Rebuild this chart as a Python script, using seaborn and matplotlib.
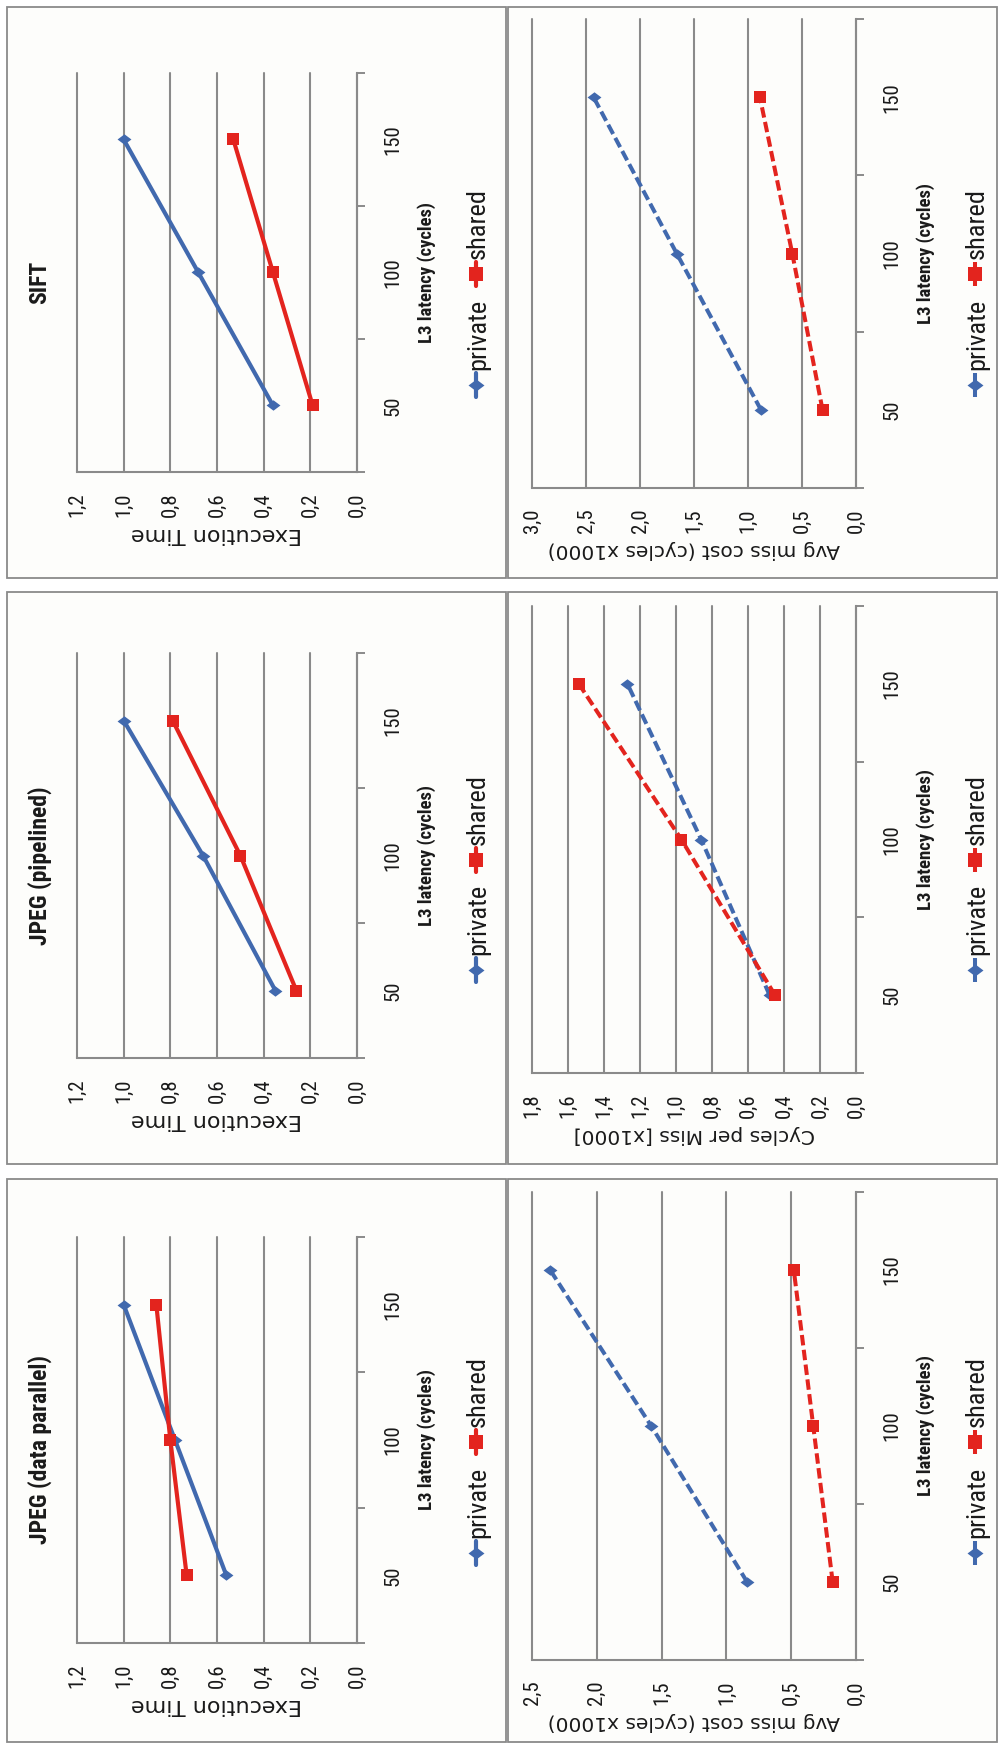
import matplotlib
matplotlib.use("Agg")
import matplotlib.pyplot as plt
import matplotlib.transforms as mtrans
from matplotlib import font_manager as fm
from matplotlib.lines import Line2D
from matplotlib.patches import Rectangle
from matplotlib.ticker import FixedLocator, MultipleLocator, FuncFormatter
import seaborn as sns

# ---- values ----
latency = [50, 100, 150]
configs = ["private", "shared"]
titles = ["SIFT", "JPEG (pipelined)", "JPEG (data parallel)"]

sift_exec_private = [0.36, 0.68, 1.00]
sift_exec_shared = [0.19, 0.36, 0.53]
pipe_exec_private = [0.35, 0.66, 1.00]
pipe_exec_shared = [0.26, 0.50, 0.79]
dpar_exec_private = [0.56, 0.78, 1.00]
dpar_exec_shared = [0.73, 0.80, 0.86]

sift_miss_private = [0.88, 1.66, 2.43]
sift_miss_shared = [0.31, 0.59, 0.89]
pipe_miss_private = [0.48, 0.86, 1.27]
pipe_miss_shared = [0.45, 0.97, 1.54]
dpar_miss_private = [0.84, 1.58, 2.36]
dpar_miss_shared = [0.18, 0.33, 0.48]

exec_label = "Execution Time"
miss_labels = ["Avg miss cost (cycles x1000)", "Cycles per Miss [x1000]",
               "Avg miss cost (cycles x1000)"]
lat_label = "L3 latency (cycles)"
exec_max, exec_step = 1.2, 0.2
miss_max = [3.0, 1.8, 2.5]
miss_step = [0.5, 0.2, 0.5]

# ---- style ----
W, H = 999, 1746
BLUE, RED = "#4169AE", "#E3241E"
GRID, BORDER, TEXT, PANEL_BG = "#8A8A8A", "#8A8A8A", "#1A1A1A", "#FDFDFB"
COLORS = {"private": BLUE, "shared": RED}
DIAMOND = [(-1, 0), (0, 0.75), (1, 0), (0, -0.75), (-1, 0)]
MARKERS = {"private": DIAMOND, "shared": "s"}
MSIZE = {"private": 10, "shared": 9}
DASH = (0, (2.6, 1.1))


def pick_narrow():
    # the picture's rotated texts look condensed; use a narrow face when there is one
    names = {f.name for f in fm.fontManager.ttflist}
    for n in ("Liberation Sans Narrow", "Roboto Condensed", "Open Sans Condensed",
              "Noto Sans Condensed", "DejaVu Sans Condensed"):
        if n in names:
            return n, "normal"
    for f in fm.fontManager.ttflist:
        if str(f.stretch) in ("condensed", "semi-condensed") and f.name in (
                "Liberation Sans", "DejaVu Sans", "Noto Sans", "Roboto", "Open Sans"):
            return f.name, f.stretch
    return "Liberation Sans", "normal"


narrow_family, narrow_stretch = pick_narrow()

sns.set_style("white")
plt.rcParams["font.family"] = [narrow_family, "Liberation Sans", "DejaVu Sans"]
plt.rcParams["font.stretch"] = narrow_stretch

fig = plt.figure(figsize=(W / 100, H / 100), dpi=100)
fig.patch.set_facecolor("white")
px = mtrans.Affine2D().scale(1 / W, -1 / H).translate(0, 1) + fig.transFigure

panel_x = [(7, 506), (508, 997)]
panel_y = [(7, 578), (592, 1164), (1179, 1742)]
for x0, x1 in panel_x:
    for y0, y1 in panel_y:
        fig.add_artist(Rectangle((x0, y0), x1 - x0, y1 - y0, transform=px,
                                 facecolor=PANEL_BG, edgecolor=BORDER, lw=1.3, zorder=-5))

left_x, right_x = (77, 357), (532, 856)
left_rows = [(73, 472), (653, 1058), (1237, 1643)]
right_rows = [(19, 488), (606, 1073), (1192, 1660)]
bounds = [l - 25 for l in latency] + [latency[-1] + 25]


def comma(v, pos):
    return f"{v:.1f}".replace(".", ",")


def draw_legend(cx, cy, dashed):
    r = fig.canvas.get_renderer()
    texts = [fig.text(0, 0, c, transform=px, rotation=90, fontsize=19, color=TEXT,
                      ha="center", va="bottom") for c in configs]
    lens = [t.get_window_extent(r).height for t in texts]
    hl, g1, g2 = 24, 3, 12
    y = cy + (2 * hl + 2 * g1 + g2 + sum(lens)) / 2
    for cfg, t, ln in zip(configs, texts, lens):
        fig.add_artist(Line2D([cx - 2, cx - 2], [y, y - hl], transform=px,
                              color=COLORS[cfg], lw=2.9 if dashed else 3.0,
                              linestyle=DASH if dashed else "-"))
        fig.add_artist(Line2D([cx - 2], [y - hl / 2], transform=px, color=COLORS[cfg],
                              marker=MARKERS[cfg], ms=MSIZE[cfg] * 1.15, mew=0,
                              linestyle="none"))
        y -= hl + g1
        t.set_position((cx, y))
        y -= ln + g2


def draw_chart(xr, yr, private, shared, vmax, step, vlabel, vlabel_size, dashed):
    x0, x1 = xr
    y0, y1 = yr
    ax = fig.add_axes([x0 / W, 1 - y1 / H, (x1 - x0) / W, (y1 - y0) / H])
    ax.set_facecolor("none")
    for vals, cfg in ((private, "private"), (shared, "shared")):
        sns.lineplot(x=vals, y=latency, orient="y", sort=False, errorbar=None, ax=ax,
                     color=COLORS[cfg], marker=MARKERS[cfg], markersize=MSIZE[cfg],
                     markeredgewidth=0, linewidth=2.9 if dashed else 3.0,
                     linestyle=DASH if dashed else "-")
    ax.set_xlim(vmax, 0)
    ax.set_ylim(bounds[0], bounds[-1])

    ax.xaxis.set_major_locator(MultipleLocator(step))
    ax.xaxis.set_major_formatter(FuncFormatter(comma))
    ax.tick_params(axis="x", which="major", direction="out", length=6, width=1.4,
                   color=GRID, pad=9, labelsize=15, labelrotation=90, labelcolor=TEXT)

    ax.yaxis.tick_right()
    ax.yaxis.set_major_locator(FixedLocator(latency))
    ax.yaxis.set_minor_locator(FixedLocator(bounds))
    ax.tick_params(axis="y", which="major", length=0, pad=19, labelsize=15,
                   labelrotation=90, labelcolor=TEXT)
    ax.tick_params(axis="y", which="minor", direction="out", length=6, width=1.4,
                   color=GRID)
    for lab in ax.get_yticklabels():
        lab.set_verticalalignment("center")

    ax.grid(axis="x", color=GRID, lw=1.5)
    ax.grid(axis="y", visible=False)
    for gl in ax.get_xgridlines():
        gl.set_clip_on(False)
    ax.spines[["top", "left"]].set_visible(False)
    for s in ("bottom", "right"):
        ax.spines[s].set_color(GRID)
        ax.spines[s].set_linewidth(1.5)

    ax.set_xlabel(vlabel, rotation=180, fontsize=vlabel_size, family="DejaVu Sans",
                  fontstretch="normal", color=TEXT, labelpad=5)
    ax.yaxis.set_label_position("right")
    ax.set_ylabel(lat_label, rotation=90, fontsize=13.5, fontweight="bold",
                  color=TEXT, labelpad=11)
    return ax


exec_data = [(sift_exec_private, sift_exec_shared),
             (pipe_exec_private, pipe_exec_shared),
             (dpar_exec_private, dpar_exec_shared)]
miss_data = [(sift_miss_private, sift_miss_shared),
             (pipe_miss_private, pipe_miss_shared),
             (dpar_miss_private, dpar_miss_shared)]

for i in range(3):
    pc = sum(panel_y[i]) / 2
    draw_chart(left_x, left_rows[i], *exec_data[i], exec_max, exec_step, exec_label,
               16, False)
    fig.text(40, sum(left_rows[i]) / 2 + 10, titles[i], transform=px, rotation=90,
             fontsize=17, fontweight="bold", color=TEXT, ha="center", va="center")
    draw_legend(478, pc, False)

    draw_chart(right_x, right_rows[i], *miss_data[i], miss_max[i], miss_step[i],
               miss_labels[i], 14.5, True)
    draw_legend(977, pc, True)

fig.savefig("out.png", dpi=100, facecolor="white")
